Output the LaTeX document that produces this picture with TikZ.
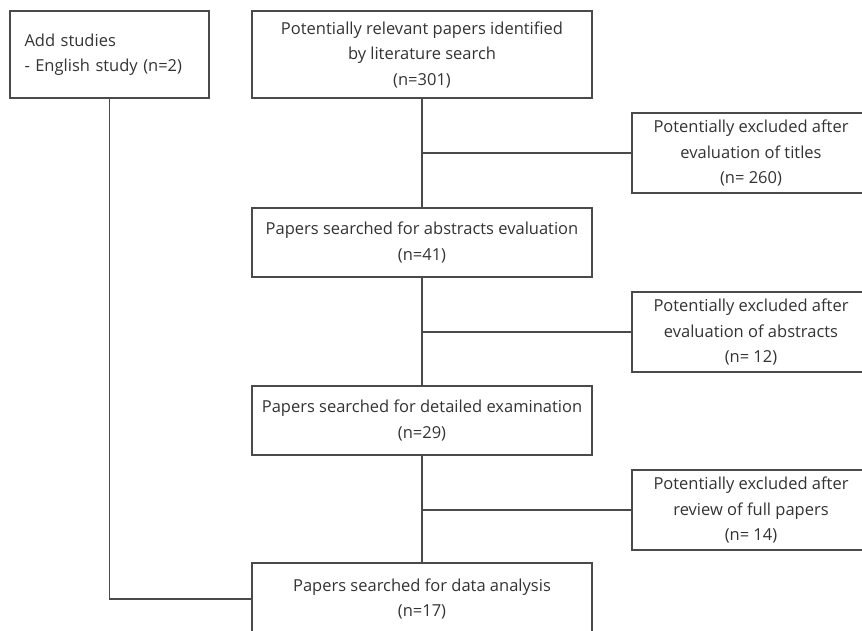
\documentclass[tikz,border=0pt]{standalone}
\usepackage{fontspec}
\setmainfont{Open Sans}
\usepackage{xcolor}
\definecolor{boxline}{HTML}{4A4A4A}
\definecolor{boxtext}{HTML}{333333}

\begin{document}
\begin{tikzpicture}[x=1pt,y=-1pt,
  box/.style={draw=boxline,line width=1.8pt,text=boxtext,font=\fontsize{16.5}{25.5}\selectfont,align=center,inner sep=0pt},
  excl/.style={box,minimum width=238pt,minimum height=80pt},
  link/.style={boxline,line width=1.8pt}]
\clip (0,0) rectangle (862,631);

\node[box,minimum width=199pt,minimum height=87pt,text width=170pt,align=left] (add) at (109.5,54.5) {Add studies\\- English study (n=2)};

\node[box,minimum width=340pt,minimum height=87pt] (relevant) at (422,54.5) {Potentially relevant papers identified\\by literature search\\(n=301)};
\node[box,minimum width=340pt,minimum height=69pt] (abstracts) at (422,242.5) {Papers searched for abstracts evaluation\\(n=41)};
\node[box,minimum width=340pt,minimum height=69pt] (detailed) at (422,420.5) {Papers searched for detailed examination\\(n=29)};
\node[box,minimum width=340pt,minimum height=72pt] (analysis) at (422,599) {Papers searched for data analysis\\(n=17)};

\node[excl] (extitles) at (751,153) {Potentially excluded after\\evaluation of titles\\(n= 260)};
\node[excl] (exabstracts) at (751,332) {Potentially excluded after\\evaluation of abstracts\\(n= 12)};
\node[excl] (exreview) at (751,510) {Potentially excluded after\\review of full papers\\(n= 14)};

\draw[link] (relevant) -- (abstracts);
\draw[link] (abstracts) -- (detailed);
\draw[link] (detailed) -- (analysis);
\draw[link] (extitles.west) -- (extitles.west -| relevant.south);
\draw[link] (exabstracts.west) -- (exabstracts.west -| abstracts.south);
\draw[link] (exreview.west) -- (exreview.west -| detailed.south);
\draw[link] (add.south) |- (analysis.west);
\end{tikzpicture}
\end{document}
